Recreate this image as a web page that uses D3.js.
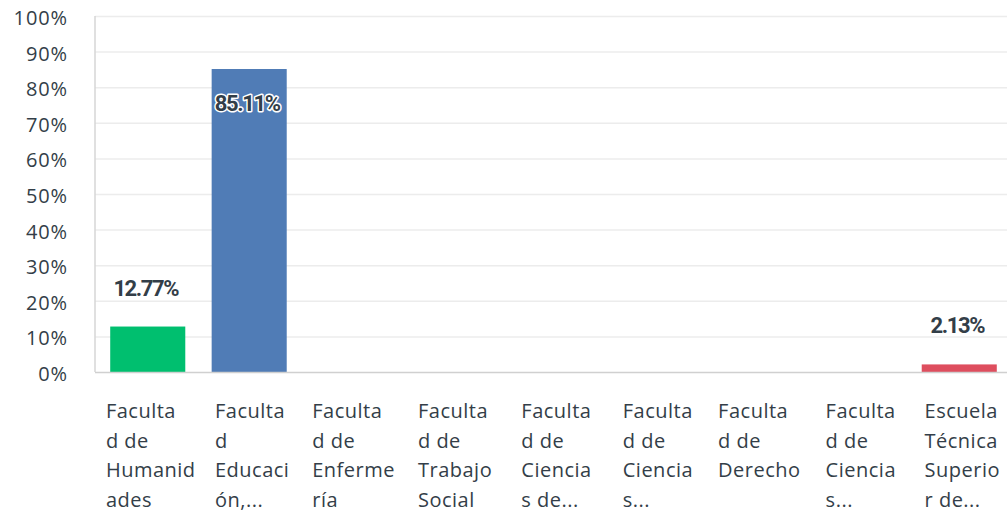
<!DOCTYPE html>
<html><head><meta charset="utf-8">
<script src="https://cdn.jsdelivr.net/npm/d3@7"></script>
<style>
html,body{margin:0;padding:0;background:#fff;}
svg{display:block;font-family:"Open Sans",sans-serif;}
</style></head>
<body><svg id="c" width="1007" height="513"></svg>
<script>
const categories = ["hum","edu","enf","tra","cie1","cie2","der","cie3","esc"];
const categoryLines = [
  ["Faculta","d de","Humanid","ades"],
  ["Faculta","d","Educaci","ón,..."],
  ["Faculta","d de","Enferme","ría"],
  ["Faculta","d de","Trabajo","Social"],
  ["Faculta","d de","Ciencia","s de..."],
  ["Faculta","d de","Ciencia","s..."],
  ["Faculta","d de","Derecho"],
  ["Faculta","d de","Ciencia","s..."],
  ["Escuela","Técnica","Superio","r de..."]
];
const values = [12.77, 85.11, 0, 0, 0, 0, 0, 0, 2.13];
const barColors = ["#00BF6F","#507CB6","#00BF6F","#00BF6F","#00BF6F","#00BF6F","#00BF6F","#00BF6F","#DE4E5E"];
const yTicks = [0,10,20,30,40,50,60,70,80,90,100];

const svg = d3.select("#c");
const mLeft = 95, mTop = 16, mBottom = 372;
const x = d3.scaleBand().domain(categories).range([mLeft, 1012]).paddingInner(0.26).paddingOuter(0.15);
const y = d3.scaleLinear().domain([0,100]).range([mBottom, mTop]);
const textColor = "#333e48";

// gridlines
svg.append("g").selectAll("line").data(yTicks.filter(d=>d>0)).join("line")
  .attr("x1", mLeft).attr("x2", 1007)
  .attr("y1", d=>y(d)+0.5).attr("y2", d=>y(d)+0.5)
  .attr("stroke","#ececec").attr("stroke-width",1.5);

// y axis labels
const yAxis = d3.axisLeft(y).tickValues(yTicks).tickFormat(d=>d+"%").tickSize(0).tickPadding(0);
const gy = svg.append("g").attr("transform",`translate(68,2)`).call(yAxis);
gy.select(".domain").remove();
gy.selectAll("text").attr("font-size",20).attr("fill",textColor).attr("font-family","Open Sans")
  .attr("letter-spacing","0.9px");

// axis lines
svg.append("line").attr("x1",mLeft).attr("x2",mLeft).attr("y1",mTop).attr("y2",mBottom)
  .attr("stroke","#d6d6d6").attr("stroke-width",1.5);

// bars
svg.append("g").selectAll("rect").data(values).join("rect")
  .attr("x",(d,i)=>x(categories[i]))
  .attr("width",x.bandwidth())
  .attr("y",d=>y(d))
  .attr("height",d=>mBottom-y(d))
  .attr("fill",(d,i)=>barColors[i]);

svg.append("line").attr("x1",mLeft).attr("x2",1007).attr("y1",mBottom+0.5).attr("y2",mBottom+0.5)
  .attr("stroke","#d0d0d0").attr("stroke-width",1.5);

// value labels
svg.append("g").selectAll("text").data(values.map((v,i)=>({v,i})).filter(d=>d.v>0)).join("text")
  .attr("x",d=>x(categories[d.i])+x.bandwidth()/2-2)
  .attr("y",d=>d.v>80 ? y(d.v)+42 : y(d.v)-31)
  .attr("text-anchor","middle")
  .attr("font-family","Roboto").attr("font-weight","bold").attr("font-size",22)
  .attr("letter-spacing","-1.4px")
  .attr("fill",textColor)
  .attr("stroke",d=>d.v>80?"#fff":"none").attr("stroke-width",3).attr("paint-order","stroke")
  .attr("stroke-linejoin","round")
  .text(d=>d.v.toFixed(2)+"%");

// category labels
const cg = svg.append("g").selectAll("g").data(categoryLines).join("g");
cg.each(function(lines,i){
  const g = d3.select(this);
  const t = g.append("text").attr("font-size",20).attr("fill",textColor).attr("font-family","Open Sans")
    .attr("letter-spacing","0.5px");
  lines.forEach((l,k)=>t.append("tspan").attr("x",0).attr("y",418+k*29.7).text(l));
  const w = t.node().getBBox().width;
  g.attr("transform",`translate(${x(categories[i])+x.bandwidth()/2+3-w/2},0)`);
});
</script></body></html>
